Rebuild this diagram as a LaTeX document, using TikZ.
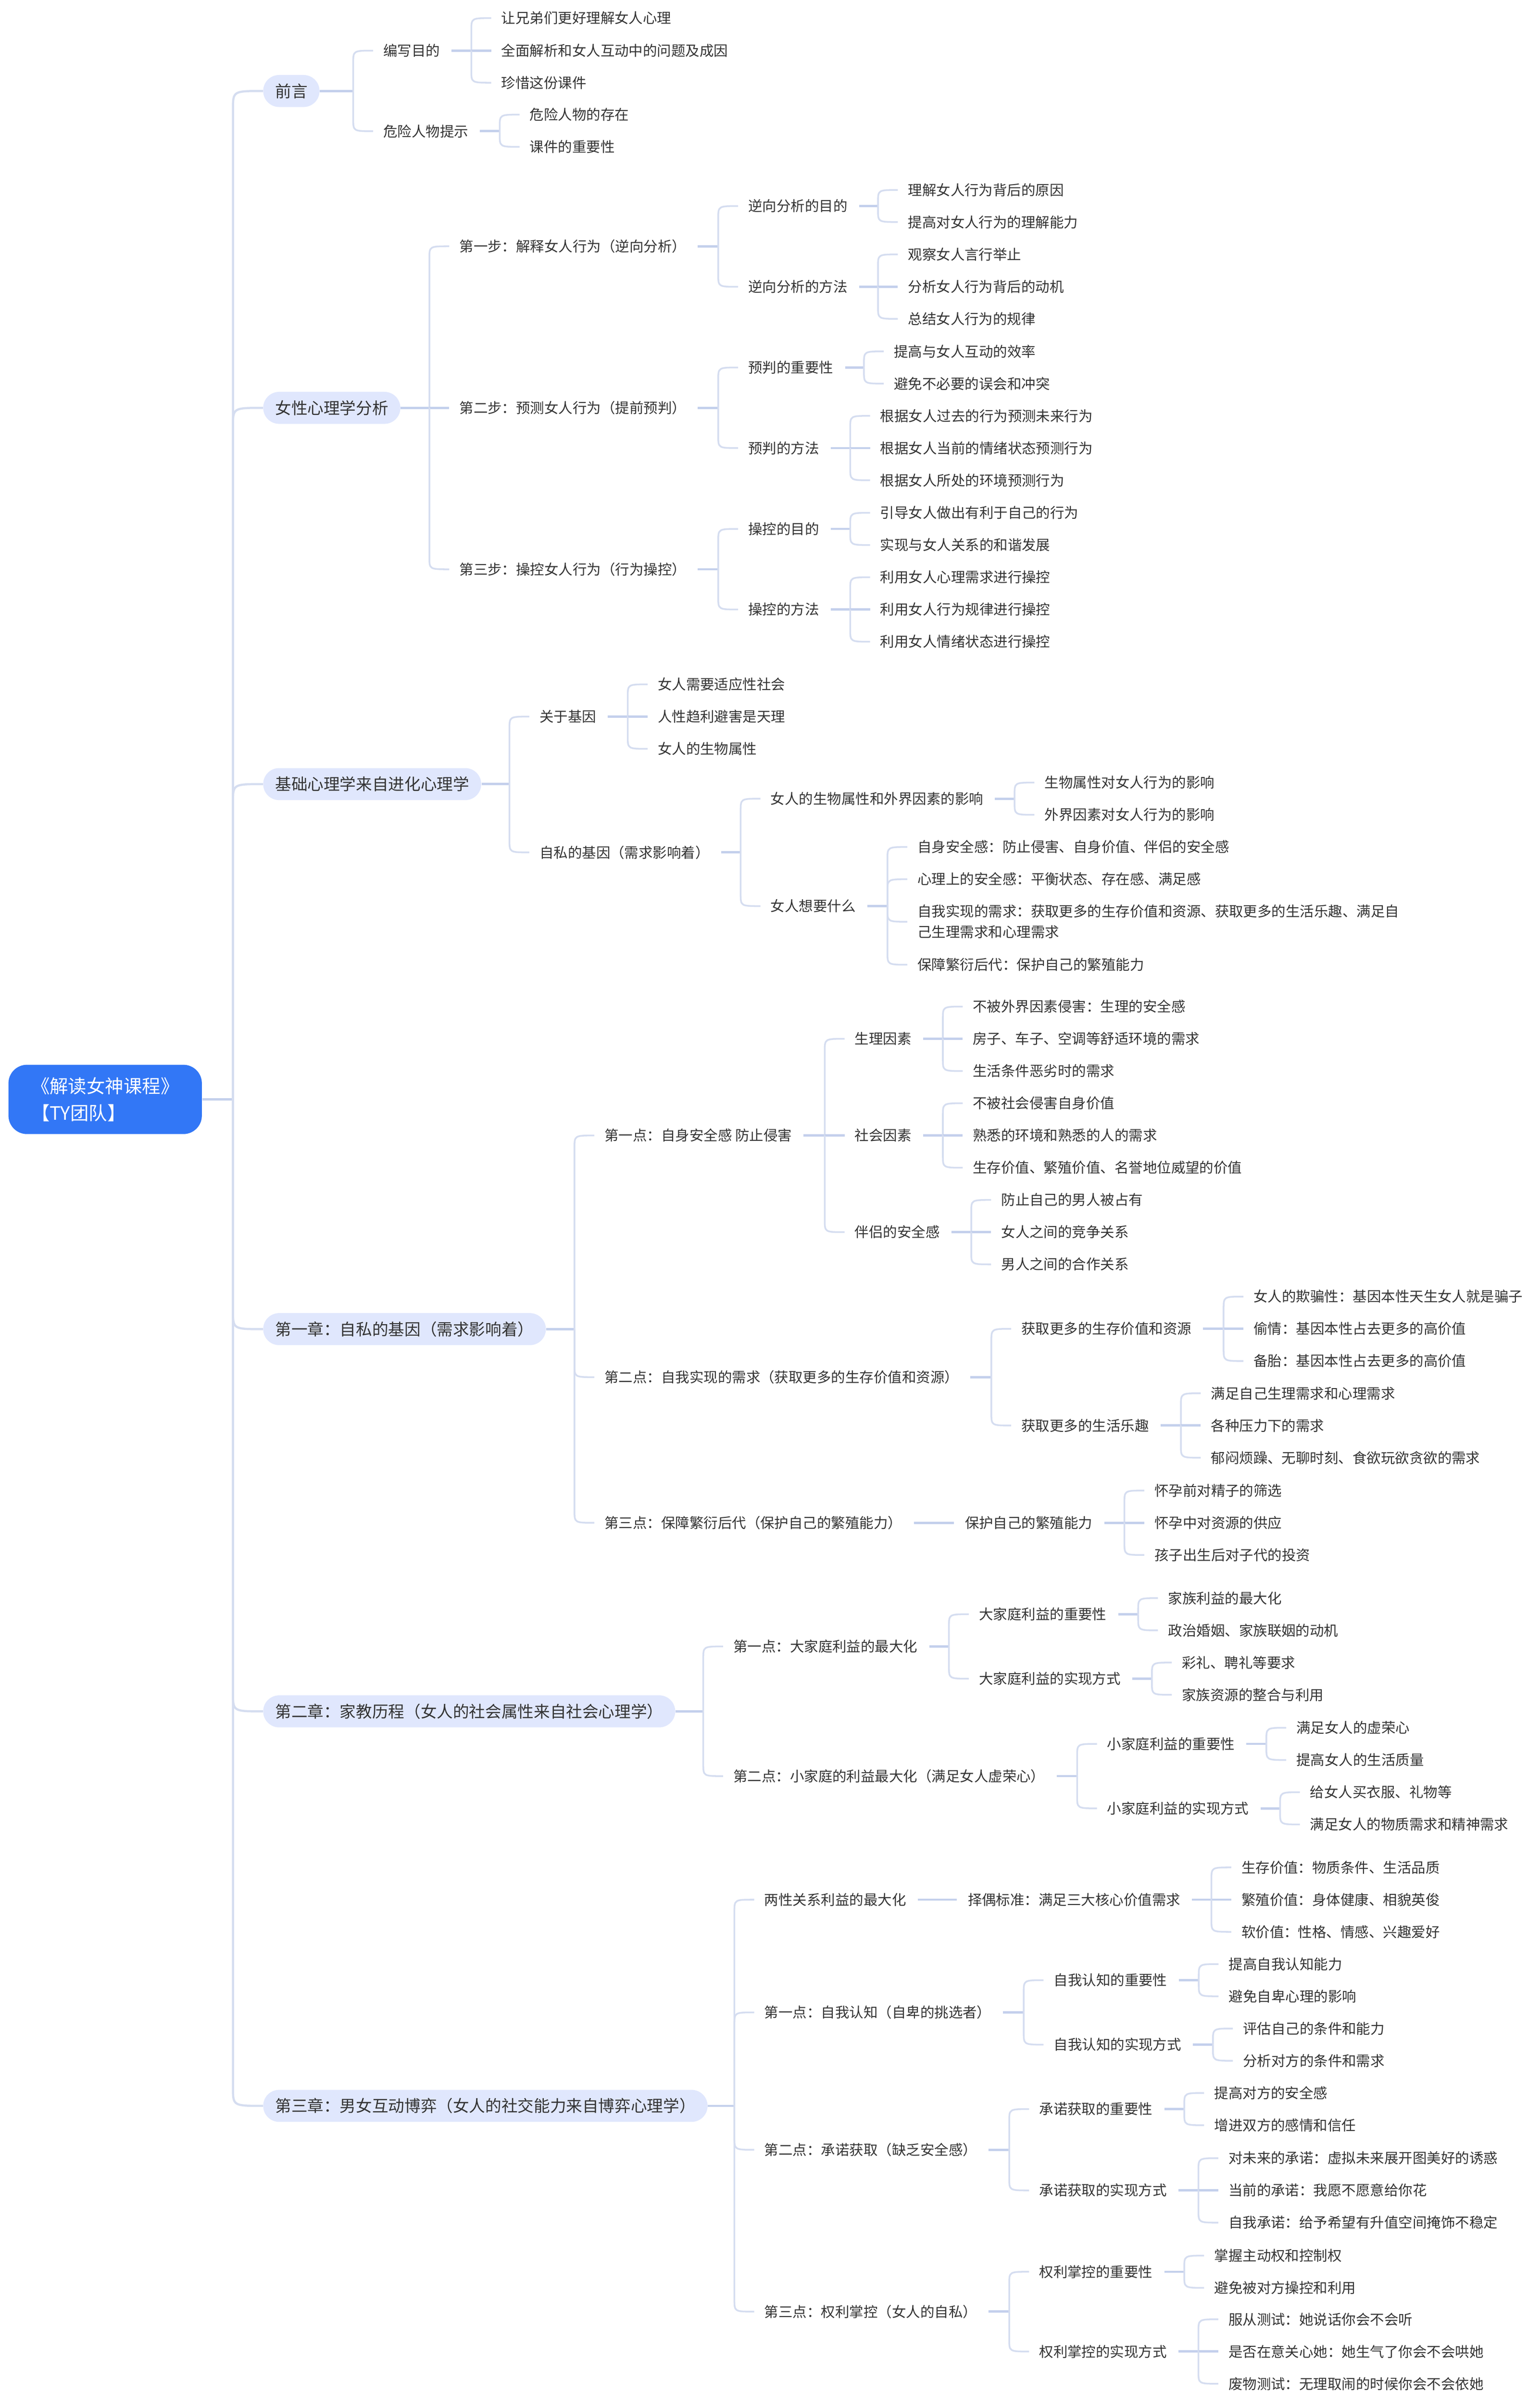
\documentclass[tikz,border=0pt]{standalone}
\usepackage{fontspec}
\setmainfont{Noto Sans CJK SC}
\usetikzlibrary{calc}
\definecolor{rootblue}{RGB}{50,119,246}
\definecolor{pillc}{RGB}{224,231,253}
\definecolor{txtc}{RGB}{51,51,51}
\definecolor{brc}{RGB}{213,221,240}
\definecolor{stubc}{RGB}{196,208,236}
\newcommand\mmstubp[2]{\draw[stubl] (#1.east) -- ($(#2.west |- #1.east)+(-19.5,0)$);}
\newcommand\mmstub[2]{\draw[stubl] ($(#1.east)+(7.5,0)$) -- ($(#2.west |- #1.east)+(-19.5,0)$);}
\newcommand\mmup[2]{\draw[brl] ($(#2.west |- #1.east)+(-19.5,0)$) -- ($(#2.west)+(-19.5,8)$) .. controls ($(#2.west)+(-19.5,0)$) .. ($(#2.west)+(-6.5,0)$);}
\newcommand\mmdn[2]{\draw[brl] ($(#2.west |- #1.east)+(-19.5,0)$) -- ($(#2.west)+(-19.5,-8)$) .. controls ($(#2.west)+(-19.5,0)$) .. ($(#2.west)+(-6.5,0)$);}
\newcommand\mmmd[2]{\draw[stubl] ($(#2.west |- #1.east)+(-19.5,0)$) -- ($(#2.west)+(-6.5,0)$);}
\newcommand\mmone[2]{\draw[stubl] ($(#1.east)+(7.5,0)$) -- ($(#2.west)+(-7,0)$);}
\newcommand\mmtup[1]{\draw[trl] (tr) -- ($(tr |- #1.west)+(0,12)$) .. controls (tr |- #1.west) .. (#1.west);}
\newcommand\mmtdn[1]{\draw[trl] (tr) -- ($(tr |- #1.west)+(0,-12)$) .. controls (tr |- #1.west) .. (#1.west);}
\begin{document}
\begin{tikzpicture}[x=0.991pt,y=-0.9965pt,
  tx/.style={anchor=west, inner sep=0pt, text=txtc, font=\fontsize{9.2pt}{13.35pt}\selectfont, text height=7.36pt, text depth=0.37pt},
  txtwo/.style={anchor=west, inner sep=0pt, text=txtc, font=\fontsize{9.2pt}{13.35pt}\selectfont, align=left},
  lone/.style={anchor=west, inner xsep=7.8pt, inner ysep=0pt, minimum height=20.8pt, rounded corners=10.4pt, fill=pillc, text=txtc, font=\fontsize{10.5pt}{13pt}\selectfont, text height=8.4pt, text depth=0.42pt},
  rootn/.style={fill=rootblue, text=white, rounded corners=12pt, minimum width=125.6pt, minimum height=45pt, inner sep=0pt, align=left, font=\fontsize{12pt}{17.6pt}\selectfont},
  brl/.style={draw=brc, line width=1.1pt},
  stubl/.style={draw=stubc, line width=1.5pt},
  trl/.style={draw=brc, line width=1.4pt}]
\fill[white] (0pt,0pt) rectangle (1000pt,-1561.24pt);
\useasboundingbox (0pt,0pt) rectangle (1000pt,-1561.24pt);
\begin{scope}[xshift=1.36pt]
% root and level 1
\node[rootn] (root) at (67.55,716.5) {《解读女神课程》\\【TY团队】};
\coordinate (tr) at (151.3,716.5);
\node[lone] (A) at (170.9,59.3) {前言};
\node[lone] (B) at (170.9,265.8) {女性心理学分析};
\node[lone] (C) at (170.9,511) {基础心理学来自进化心理学};
\node[lone] (D) at (170.9,866.2) {第一章：自私的基因（需求影响着）};
\node[lone] (E) at (170.9,1115.3) {第二章：家教历程（女人的社会属性来自社会心理学）};
\node[lone] (F) at (170.9,1372.4) {第三章：男女互动博弈（女人的社交能力来自博弈心理学）};

% A
\node[tx] (a1) at (249.6,33) {编写目的};
\node[tx] (a11) at (327,11.8) {让兄弟们更好理解女人心理};
\node[tx] (a12) at (327,33) {全面解析和女人互动中的问题及成因};
\node[tx] (a13) at (327,53.9) {珍惜这份课件};
\node[tx] (a2) at (249.6,85.5) {危险人物提示};
\node[tx] (a21) at (345.6,74.7) {危险人物的存在};
\node[tx] (a22) at (345.6,95.7) {课件的重要性};

% B
\node[tx] (b1) at (299.5,160.5) {第一步：解释女人行为（逆向分析）};
\node[tx] (b11) at (488.8,134.3) {逆向分析的目的};
\node[tx] (b111) at (593.5,123.8) {理解女人行为背后的原因};
\node[tx] (b112) at (593.5,144.7) {提高对女人行为的理解能力};
\node[tx] (b12) at (488.8,186.9) {逆向分析的方法};
\node[tx] (b121) at (593.5,165.8) {观察女人言行举止};
\node[tx] (b122) at (593.5,186.9) {分析女人行为背后的动机};
\node[tx] (b123) at (593.5,207.8) {总结女人行为的规律};
\node[tx] (b2) at (299.5,265.8) {第二步：预测女人行为（提前预判）};
\node[tx] (b21) at (488.8,239.5) {预判的重要性};
\node[tx] (b211) at (584.3,229) {提高与女人互动的效率};
\node[tx] (b212) at (584.3,250) {避免不必要的误会和冲突};
\node[tx] (b22) at (488.8,292) {预判的方法};
\node[tx] (b221) at (575.3,271) {根据女人过去的行为预测未来行为};
\node[tx] (b222) at (575.3,292) {根据女人当前的情绪状态预测行为};
\node[tx] (b223) at (575.3,313) {根据女人所处的环境预测行为};
\node[tx] (b3) at (299.5,371) {第三步：操控女人行为（行为操控）};
\node[tx] (b31) at (488.8,344.7) {操控的目的};
\node[tx] (b311) at (575.3,334.2) {引导女人做出有利于自己的行为};
\node[tx] (b312) at (575.3,355.2) {实现与女人关系的和谐发展};
\node[tx] (b32) at (488.8,397.2) {操控的方法};
\node[tx] (b321) at (575.3,376.2) {利用女人心理需求进行操控};
\node[tx] (b322) at (575.3,397.2) {利用女人行为规律进行操控};
\node[tx] (b323) at (575.3,418.2) {利用女人情绪状态进行操控};

% C
\node[tx] (c1) at (352,467) {关于基因};
\node[tx] (c11) at (429.5,446) {女人需要适应性社会};
\node[tx] (c12) at (429.5,467) {人性趋利避害是天理};
\node[tx] (c13) at (429.5,488) {女人的生物属性};
\node[tx] (c2) at (352,555.5) {自私的基因（需求影响着）};
\node[tx] (c21) at (503.5,520.5) {女人的生物属性和外界因素的影响};
\node[tx] (c211) at (683,510) {生物属性对女人行为的影响};
\node[tx] (c212) at (683,531) {外界因素对女人行为的影响};
\node[tx] (c22) at (503.5,590.5) {女人想要什么};
\node[tx] (c221) at (599.7,552) {自身安全感：防止侵害、自身价值、伴侣的安全感};
\node[tx] (c222) at (599.7,573) {心理上的安全感：平衡状态、存在感、满足感};
\node[txtwo] (c223) at (599.7,600.7) {自我实现的需求：获取更多的生存价值和资源、获取更多的生活乐趣、满足自\\己生理需求和心理需求};
\node[tx] (c224) at (599.7,628.7) {保障繁衍后代：保护自己的繁殖能力};

% D
\node[tx] (d1) at (394.6,740) {第一点：自身安全感 防止侵害};
\node[tx] (d11) at (558.6,677) {生理因素};
\node[tx] (d111) at (636,656) {不被外界因素侵害：生理的安全感};
\node[tx] (d112) at (636,677) {房子、车子、空调等舒适环境的需求};
\node[tx] (d113) at (636,698) {生活条件恶劣时的需求};
\node[tx] (d12) at (558.6,740) {社会因素};
\node[tx] (d121) at (636,719) {不被社会侵害自身价值};
\node[tx] (d122) at (636,740) {熟悉的环境和熟悉的人的需求};
\node[tx] (d123) at (636,761) {生存价值、繁殖价值、名誉地位威望的价值};
\node[tx] (d13) at (558.6,803) {伴侣的安全感};
\node[tx] (d131) at (654.6,782) {防止自己的男人被占有};
\node[tx] (d132) at (654.6,803) {女人之间的竞争关系};
\node[tx] (d133) at (654.6,824) {男人之间的合作关系};
\node[tx] (d2) at (394.6,897.5) {第二点：自我实现的需求（获取更多的生存价值和资源）};
\node[tx] (d21) at (667.8,866) {获取更多的生存价值和资源};
\node[tx] (d211) at (820,845) {女人的欺骗性：基因本性天生女人就是骗子};
\node[tx] (d212) at (820,866) {偷情：基因本性占去更多的高价值};
\node[tx] (d213) at (820,887) {备胎：基因本性占去更多的高价值};
\node[tx] (d22) at (667.8,929) {获取更多的生活乐趣};
\node[tx] (d221) at (792,908) {满足自己生理需求和心理需求};
\node[tx] (d222) at (792,929) {各种压力下的需求};
\node[tx] (d223) at (792,950) {郁闷烦躁、无聊时刻、食欲玩欲贪欲的需求};
\node[tx] (d3) at (394.6,992.4) {第三点：保障繁衍后代（保护自己的繁殖能力）};
\node[tx] (d31) at (630.8,992.4) {保护自己的繁殖能力};
\node[tx] (d311) at (755,971.4) {怀孕前对精子的筛选};
\node[tx] (d312) at (755,992.4) {怀孕中对资源的供应};
\node[tx] (d313) at (755,1013.4) {孩子出生后对子代的投资};

% E
\node[tx] (e1) at (479,1073) {第一点：大家庭利益的最大化};
\node[tx] (e11) at (640,1052) {大家庭利益的重要性};
\node[tx] (e111) at (764,1041.5) {家族利益的最大化};
\node[tx] (e112) at (764,1062.5) {政治婚姻、家族联姻的动机};
\node[tx] (e12) at (640,1094) {大家庭利益的实现方式};
\node[tx] (e121) at (773,1083.5) {彩礼、聘礼等要求};
\node[tx] (e122) at (773,1104.5) {家族资源的整合与利用};
\node[tx] (e2) at (479,1157.5) {第二点：小家庭的利益最大化（满足女人虚荣心）};
\node[tx] (e21) at (724,1136.5) {小家庭利益的重要性};
\node[tx] (e211) at (848,1126) {满足女人的虚荣心};
\node[tx] (e212) at (848,1147) {提高女人的生活质量};
\node[tx] (e22) at (724,1178.5) {小家庭利益的实现方式};
\node[tx] (e221) at (857,1168) {给女人买衣服、礼物等};
\node[tx] (e222) at (857,1189) {满足女人的物质需求和精神需求};

% F
\node[tx] (f1) at (499.4,1238) {两性关系利益的最大化};
\node[tx] (f11) at (632.7,1238) {择偶标准：满足三大核心价值需求};
\node[tx] (f111) at (812,1217) {生存价值：物质条件、生活品质};
\node[tx] (f112) at (812,1238) {繁殖价值：身体健康、相貌英俊};
\node[tx] (f113) at (812,1259) {软价值：性格、情感、兴趣爱好};
\node[tx] (f2) at (499.4,1311.5) {第一点：自我认知（自卑的挑选者）};
\node[tx] (f21) at (689,1290.5) {自我认知的重要性};
\node[tx] (f211) at (803.7,1280) {提高自我认知能力};
\node[tx] (f212) at (803.7,1301) {避免自卑心理的影响};
\node[tx] (f22) at (689,1332.5) {自我认知的实现方式};
\node[tx] (f221) at (813,1322) {评估自己的条件和能力};
\node[tx] (f222) at (813,1343) {分析对方的条件和需求};
\node[tx] (f3) at (499.4,1401) {第二点：承诺获取（缺乏安全感）};
\node[tx] (f31) at (679.5,1374.5) {承诺获取的重要性};
\node[tx] (f311) at (794.2,1364) {提高对方的安全感};
\node[tx] (f312) at (794.2,1385) {增进双方的感情和信任};
\node[tx] (f32) at (679.5,1427.5) {承诺获取的实现方式};
\node[tx] (f321) at (803.5,1406.5) {对未来的承诺：虚拟未来展开图美好的诱惑};
\node[tx] (f322) at (803.5,1427.5) {当前的承诺：我愿不愿意给你花};
\node[tx] (f323) at (803.5,1448.5) {自我承诺：给予希望有升值空间掩饰不稳定};
\node[tx] (f4) at (499.4,1506.5) {第三点：权利掌控（女人的自私）};
\node[tx] (f41) at (679.5,1480.5) {权利掌控的重要性};
\node[tx] (f411) at (794.2,1470) {掌握主动权和控制权};
\node[tx] (f412) at (794.2,1491) {避免被对方操控和利用};
\node[tx] (f42) at (679.5,1532.5) {权利掌控的实现方式};
\node[tx] (f421) at (803.5,1511.5) {服从测试：她说话你会不会听};
\node[tx] (f422) at (803.5,1532.5) {是否在意关心她：她生气了你会不会哄她};
\node[tx] (f423) at (803.5,1553.5) {废物测试：无理取闹的时候你会不会依她};

% ---------- connectors ----------
\draw[stubl] (root.east) -- (tr);
\mmtup{A}\mmtup{B}\mmtup{C}\mmtdn{D}\mmtdn{E}\mmtdn{F}

% A
\mmstubp{A}{a1}\mmup{A}{a1}\mmdn{A}{a2}
\mmstub{a1}{a11}\mmup{a1}{a11}\mmmd{a1}{a12}\mmdn{a1}{a13}
\mmstub{a2}{a21}\mmup{a2}{a21}\mmdn{a2}{a22}

% B
\mmstubp{B}{b1}\mmup{B}{b1}\mmmd{B}{b2}\mmdn{B}{b3}
\mmstub{b1}{b11}\mmup{b1}{b11}\mmdn{b1}{b12}
\mmstub{b11}{b111}\mmup{b11}{b111}\mmdn{b11}{b112}
\mmstub{b12}{b121}\mmup{b12}{b121}\mmmd{b12}{b122}\mmdn{b12}{b123}
\mmstub{b2}{b21}\mmup{b2}{b21}\mmdn{b2}{b22}
\mmstub{b21}{b211}\mmup{b21}{b211}\mmdn{b21}{b212}
\mmstub{b22}{b221}\mmup{b22}{b221}\mmmd{b22}{b222}\mmdn{b22}{b223}
\mmstub{b3}{b31}\mmup{b3}{b31}\mmdn{b3}{b32}
\mmstub{b31}{b311}\mmup{b31}{b311}\mmdn{b31}{b312}
\mmstub{b32}{b321}\mmup{b32}{b321}\mmmd{b32}{b322}\mmdn{b32}{b323}

% C
\mmstubp{C}{c1}\mmup{C}{c1}\mmdn{C}{c2}
\mmstub{c1}{c11}\mmup{c1}{c11}\mmmd{c1}{c12}\mmdn{c1}{c13}
\mmstub{c2}{c21}\mmup{c2}{c21}\mmdn{c2}{c22}
\mmstub{c21}{c211}\mmup{c21}{c211}\mmdn{c21}{c212}
\mmstub{c22}{c221}\mmup{c22}{c221}\mmup{c22}{c222}\mmdn{c22}{c223}\mmdn{c22}{c224}

% D
\mmstubp{D}{d1}\mmup{D}{d1}\mmdn{D}{d2}\mmdn{D}{d3}
\mmstub{d1}{d11}\mmup{d1}{d11}\mmmd{d1}{d12}\mmdn{d1}{d13}
\mmstub{d11}{d111}\mmup{d11}{d111}\mmmd{d11}{d112}\mmdn{d11}{d113}
\mmstub{d12}{d121}\mmup{d12}{d121}\mmmd{d12}{d122}\mmdn{d12}{d123}
\mmstub{d13}{d131}\mmup{d13}{d131}\mmmd{d13}{d132}\mmdn{d13}{d133}
\mmstub{d2}{d21}\mmup{d2}{d21}\mmdn{d2}{d22}
\mmstub{d21}{d211}\mmup{d21}{d211}\mmmd{d21}{d212}\mmdn{d21}{d213}
\mmstub{d22}{d221}\mmup{d22}{d221}\mmmd{d22}{d222}\mmdn{d22}{d223}
\mmone{d3}{d31}
\mmstub{d31}{d311}\mmup{d31}{d311}\mmmd{d31}{d312}\mmdn{d31}{d313}

% E
\mmstubp{E}{e1}\mmup{E}{e1}\mmdn{E}{e2}
\mmstub{e1}{e11}\mmup{e1}{e11}\mmdn{e1}{e12}
\mmstub{e11}{e111}\mmup{e11}{e111}\mmdn{e11}{e112}
\mmstub{e12}{e121}\mmup{e12}{e121}\mmdn{e12}{e122}
\mmstub{e2}{e21}\mmup{e2}{e21}\mmdn{e2}{e22}
\mmstub{e21}{e211}\mmup{e21}{e211}\mmdn{e21}{e212}
\mmstub{e22}{e221}\mmup{e22}{e221}\mmdn{e22}{e222}

% F
\mmstubp{F}{f1}\mmup{F}{f1}\mmup{F}{f2}\mmdn{F}{f3}\mmdn{F}{f4}
\mmone{f1}{f11}
\mmstub{f11}{f111}\mmup{f11}{f111}\mmmd{f11}{f112}\mmdn{f11}{f113}
\mmstub{f2}{f21}\mmup{f2}{f21}\mmdn{f2}{f22}
\mmstub{f21}{f211}\mmup{f21}{f211}\mmdn{f21}{f212}
\mmstub{f22}{f221}\mmup{f22}{f221}\mmdn{f22}{f222}
\mmstub{f3}{f31}\mmup{f3}{f31}\mmdn{f3}{f32}
\mmstub{f31}{f311}\mmup{f31}{f311}\mmdn{f31}{f312}
\mmstub{f32}{f321}\mmup{f32}{f321}\mmmd{f32}{f322}\mmdn{f32}{f323}
\mmstub{f4}{f41}\mmup{f4}{f41}\mmdn{f4}{f42}
\mmstub{f41}{f411}\mmup{f41}{f411}\mmdn{f41}{f412}
\mmstub{f42}{f421}\mmup{f42}{f421}\mmmd{f42}{f422}\mmdn{f42}{f423}
\end{scope}
\end{tikzpicture}
\end{document}
